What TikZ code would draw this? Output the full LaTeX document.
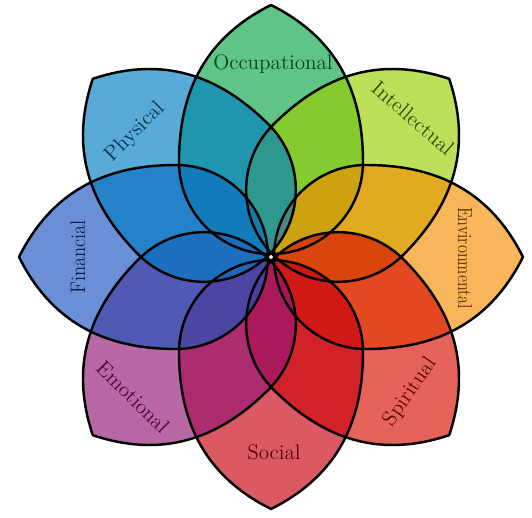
\documentclass[tikz,border=0pt]{standalone}
\usepackage{tikz}
\usepackage{xcolor}
\definecolor{OccGreen}{HTML}{07A646}
\definecolor{IntLime}{HTML}{98CF01}
\definecolor{EnvOrange}{HTML}{F68D01}
\definecolor{SpiRed}{HTML}{D70F03}
\definecolor{SocCrimson}{HTML}{C8000F}
\definecolor{EmoMagenta}{HTML}{951576}
\definecolor{FinBlue}{HTML}{1A53C0}
\definecolor{PhySky}{HTML}{017CC3}
\newcommand{\petalpath}{(92,95) .. controls (92,168) and (64,220) .. (0,252)
  .. controls (-64,220) and (-92,168) .. (-92,95)
  .. controls (-92,44.2) and (-50.8,3) .. (0,3)
  .. controls (50.8,3) and (92,44.2) .. (92,95) -- cycle}

\begin{document}
\begin{tikzpicture}[x=0.02cm,y=0.02cm,
    petal fill/.style={fill opacity=0.65},
    petal line/.style={line width=1.4pt,line join=round},
    petal text/.style={font=\fontsize{12}{14}\selectfont,inner sep=0pt}]
  \useasboundingbox (-271,-261) rectangle (261,257);
  % petals, each one laid over the one before
  \fill[petal fill,OccGreen] \petalpath;
  \fill[petal fill,IntLime,rotate=-45] \petalpath;
  \fill[petal fill,EnvOrange,rotate=-90] \petalpath;
  \fill[petal fill,SpiRed,rotate=-135] \petalpath;
  \fill[petal fill,SocCrimson,rotate=180] \petalpath;
  \fill[petal fill,EmoMagenta,rotate=135] \petalpath;
  \fill[petal fill,FinBlue,rotate=90] \petalpath;
  \fill[petal fill,PhySky,rotate=45] \petalpath;
  % outlines
  \draw[petal line] \petalpath;
  \draw[petal line,rotate=-45] \petalpath;
  \draw[petal line,rotate=-90] \petalpath;
  \draw[petal line,rotate=-135] \petalpath;
  \draw[petal line,rotate=180] \petalpath;
  \draw[petal line,rotate=135] \petalpath;
  \draw[petal line,rotate=90] \petalpath;
  \draw[petal line,rotate=45] \petalpath;
  % labels
  \node[petal text,text=OccGreen!40!black] (occ) at (2,193) {Occupational};
  \node[petal text,text=IntLime!35!black,rotate=-41] (int) at (142,139) {Intellectual};
  \node[petal text,text=EnvOrange!35!black,rotate=-90,xscale=0.8,transform shape,
        font=\fontsize{11.5}{13}\selectfont] (env) at (194,-1) {Environmental};
  \node[petal text,text=SpiRed!45!black,rotate=55] (spi) at (139,-135) {Spiritual};
  \node[petal text,text=SocCrimson!45!black] (soc) at (3,-195) {Social};
  \node[petal text,text=EmoMagenta!45!black,rotate=-45] (emo) at (-138,-140) {Emotional};
  \node[petal text,text=FinBlue!40!black,rotate=90,xscale=0.88,transform shape]
    (fin) at (-193,0) {Financial};
  \node[petal text,text=PhySky!40!black,rotate=45] (phy) at (-136,125) {Physical};
\end{tikzpicture}
\end{document}
